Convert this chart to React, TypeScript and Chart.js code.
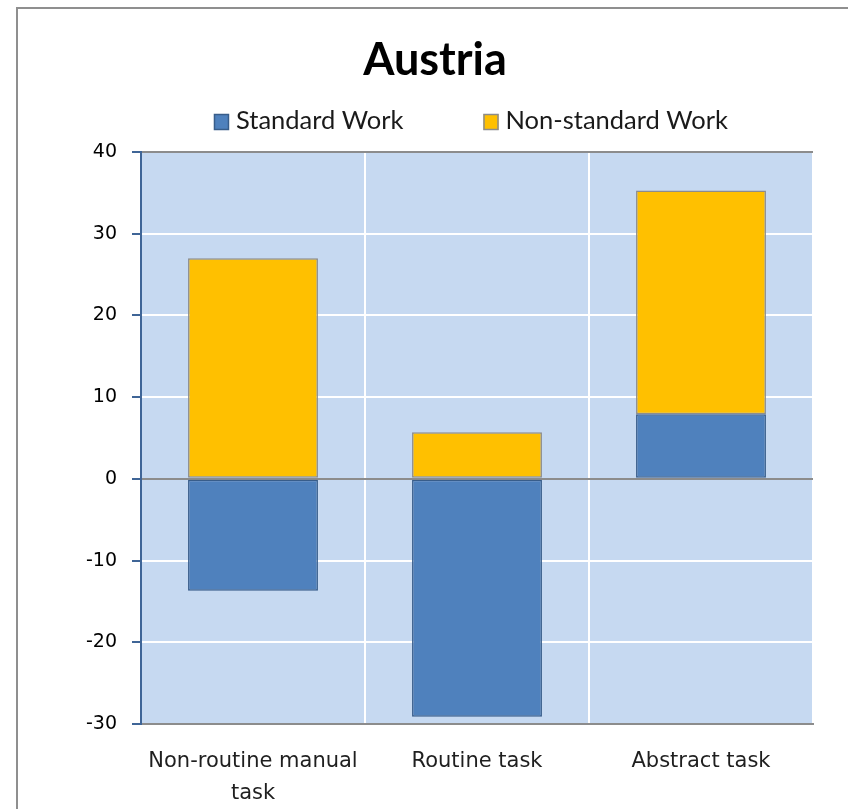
import React, { useEffect, useRef } from "react";
import { Chart, registerables } from "chart.js";

Chart.register(...registerables);

// ---- data ----
const categories: (string | string[])[] = [["Non-routine manual", "task"], "Routine task", "Abstract task"];
const standardWork = [-13.7, -29.1, 7.9];
const nonStandardWork = [27.0, 5.7, 27.4];
const seriesNames = ["Standard Work", "Non-standard Work"];
const titleText = "Austria";
const yMin = -30;
const yMax = 40;
const yStep = 10;

// ---- styles ----
const BLUE = "#4F81BD";
const BLUE_EDGE = "#385D8A";
const GOLD = "#FFC000";
const GOLD_EDGE = "#8C8C8C";
const PLOT_BG = "#C6D9F1";
const AXIS_NAVY = "#3F6597";
const GRID_GRAY = "#8C8C8C";
const CANVAS_W = 874;
const CANVAS_H = 809;
const PAD_LEFT = 57;

const plotBgPlugin = {
  id: "plotBg",
  beforeDraw(chart: any) {
    const { ctx, chartArea: a } = chart;
    ctx.save();
    ctx.fillStyle = PLOT_BG;
    ctx.fillRect(a.left, a.top, a.right - a.left, a.bottom - a.top);
    ctx.restore();
  },
};

const legendPlugin = {
  id: "customLegend",
  afterDraw(chart: any) {
    const { ctx, chartArea: a } = chart;
    const boxW = 15;
    const boxH = 16;
    const textGap = 7;
    const itemGap = 80;
    ctx.save();
    ctx.font = "25.5px Lato";
    const items = chart.data.datasets.map((ds: any) => ({
      text: ds.label as string,
      fill: ds.backgroundColor as string,
      stroke: ds.borderColor as string,
      w: ctx.measureText(ds.label).width,
    }));
    const total =
      items.reduce((s: number, it: any) => s + boxW + textGap + it.w, 0) + itemGap * (items.length - 1);
    let x = (a.left + a.right) / 2 - 6 - total / 2;
    const cy = 121;
    for (const it of items) {
      ctx.fillStyle = it.fill;
      ctx.fillRect(x, cy - boxH / 2 + 1, boxW, boxH);
      ctx.strokeStyle = it.stroke;
      ctx.lineWidth = 1.5;
      ctx.strokeRect(x + 0.5, cy - boxH / 2 + 1.5, boxW - 1, boxH - 1);
      ctx.fillStyle = "#1a1a1a";
      ctx.textBaseline = "middle";
      ctx.textAlign = "left";
      ctx.fillText(it.text, x + boxW + textGap, cy);
      x += boxW + textGap + it.w + itemGap;
    }
    ctx.restore();
  },
};

export default function App() {
  const canvasRef = useRef<HTMLCanvasElement | null>(null);

  useEffect(() => {
    if (!canvasRef.current) return;
    const chart = new Chart(canvasRef.current, {
      type: "bar",
      data: {
        labels: categories as any,
        datasets: [
          {
            label: seriesNames[0],
            data: standardWork,
            backgroundColor: BLUE,
            borderColor: BLUE_EDGE,
            borderWidth: 1.5,
            borderSkipped: false,
          },
          {
            label: seriesNames[1],
            data: nonStandardWork,
            backgroundColor: GOLD,
            borderColor: GOLD_EDGE,
            borderWidth: 1.5,
            borderSkipped: false,
          },
        ],
      },
      options: {
        responsive: false,
        animation: false,
        devicePixelRatio: 1,
        layout: { padding: { left: PAD_LEFT, right: CANVAS_W - 813, top: 0, bottom: 0 } },
        datasets: {
          bar: { barPercentage: 0.58, categoryPercentage: 1 },
        } as any,
        plugins: {
          legend: { display: false },
          tooltip: { enabled: false },
          title: {
            display: true,
            text: titleText,
            color: "#000000",
            font: { family: "Lato", size: 45, weight: "bold", lineHeight: 1 },
            padding: { top: 38, bottom: 69 },
          },
        },
        scales: {
          x: {
            stacked: true,
            grid: {
              offset: true,
              drawTicks: false,
              lineWidth: 2,
              color: (c: any) => (c.index === categories.length ? GRID_GRAY : "#FFFFFF"),
            },
            border: { display: true, color: GRID_GRAY, width: 2 },
            ticks: {
              padding: 22,
              color: "#1f1f1f",
              font: { family: "DejaVu Sans", size: 21, lineHeight: 1.5 },
              maxRotation: 0,
              autoSkip: false,
            },
            afterFit: (s: any) => {
              s.height = CANVAS_H - 724;
            },
          },
          y: {
            stacked: true,
            min: yMin,
            max: yMax,
            grid: {
              lineWidth: 2,
              color: (c: any) => {
                const v = c.tick ? c.tick.value : null;
                return v === 0 || v === yMax || v === yMin ? GRID_GRAY : "#FFFFFF";
              },
              drawTicks: true,
              tickLength: 9,
              tickColor: AXIS_NAVY,
              tickWidth: 2,
            },
            border: { display: true, color: AXIS_NAVY, width: 2 },
            ticks: {
              stepSize: yStep,
              padding: 15,
              color: "#000000",
              font: { family: "DejaVu Sans", size: 19 },
            },
            afterFit: (s: any) => {
              s.width = 141 - PAD_LEFT;
            },
          },
        },
      },
      plugins: [plotBgPlugin, legendPlugin],
    });
    return () => chart.destroy();
  }, []);

  return (
    <div
      style={{
        position: "absolute",
        left: 0,
        top: 0,
        width: 848,
        height: 809,
        overflow: "hidden",
        background: "#ffffff",
      }}
    >
      <div
        style={{
          position: "absolute",
          left: 16,
          top: 7,
          width: 1200,
          height: 1200,
          borderLeft: "2px solid #8f8f8f",
          borderTop: "2px solid #8f8f8f",
        }}
      />
      <canvas
        ref={canvasRef}
        width={CANVAS_W}
        height={CANVAS_H}
        style={{ position: "absolute", left: 0, top: 0, width: CANVAS_W, height: CANVAS_H }}
      />
    </div>
  );
}
